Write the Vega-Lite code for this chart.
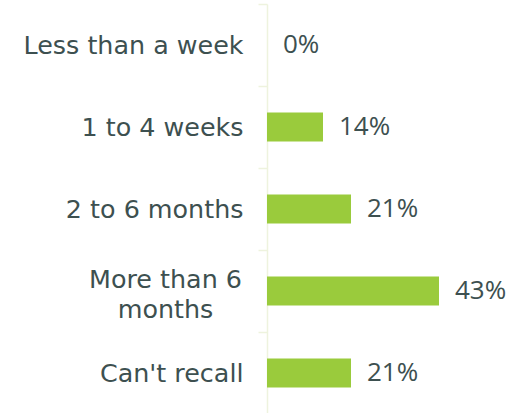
{
  "$schema": "https://vega.github.io/schema/vega-lite/v6.json",
  "autosize": "none",
  "padding": {"left": 267, "top": 4, "right": 0, "bottom": 0},
  "width": 264,
  "height": 410,
  "background": "white",
  "config": {"view": {"stroke": null}},
  "data": {
    "values": [
      {"period": "Less than a week", "share": 0.0},
      {"period": "1 to 4 weeks", "share": 0.14},
      {"period": "2 to 6 months", "share": 0.21},
      {"period": "More than 6 months", "share": 0.43},
      {"period": "Can't recall", "share": 0.21}
    ]
  },
  "encoding": {
    "y": {
      "field": "period",
      "type": "nominal",
      "sort": null,
      "scale": {"paddingInner": 0, "paddingOuter": 0},
      "axis": {
        "title": null,
        "domain": true,
        "domainColor": "#eef3de",
        "domainWidth": 1.5,
        "ticks": true,
        "tickBand": "extent",
        "tickSize": 9,
        "tickColor": "#eef3de",
        "tickWidth": 1.5,
        "labelPadding": {"condition": {"test": "datum.value == 'More than 6 months'", "value": 93}, "value": 15},
        "labelAlign": {"condition": {"test": "datum.value == 'More than 6 months'", "value": "center"}, "value": "right"},
        "labelFont": "DejaVu Sans",
        "labelFontSize": 25.4,
        "labelColor": "#3d5050",
        "labelLimit": 0,
        "labelLineHeight": 30,
        "labelOffset": {"condition": {"test": "datum.value == 'More than 6 months'", "value": -12}, "value": 0},
        "labelExpr": "datum.label == 'More than 6 months' ? ['More than 6', 'months'] : datum.label"
      }
    },
    "x": {
      "field": "share",
      "type": "quantitative",
      "scale": {"domain": [0, 0.66], "nice": false, "zero": true},
      "axis": null
    }
  },
  "layer": [
    {"mark": {"type": "bar", "size": 29, "color": "#9acb3c"}},
    {
      "mark": {"type": "text", "align": "left", "baseline": "middle", "dx": 16, "font": "Open Sans", "fontSize": 26, "color": "#3d5050"},
      "encoding": {"text": {"field": "share", "type": "quantitative", "format": ".0%"}}
    }
  ]
}
